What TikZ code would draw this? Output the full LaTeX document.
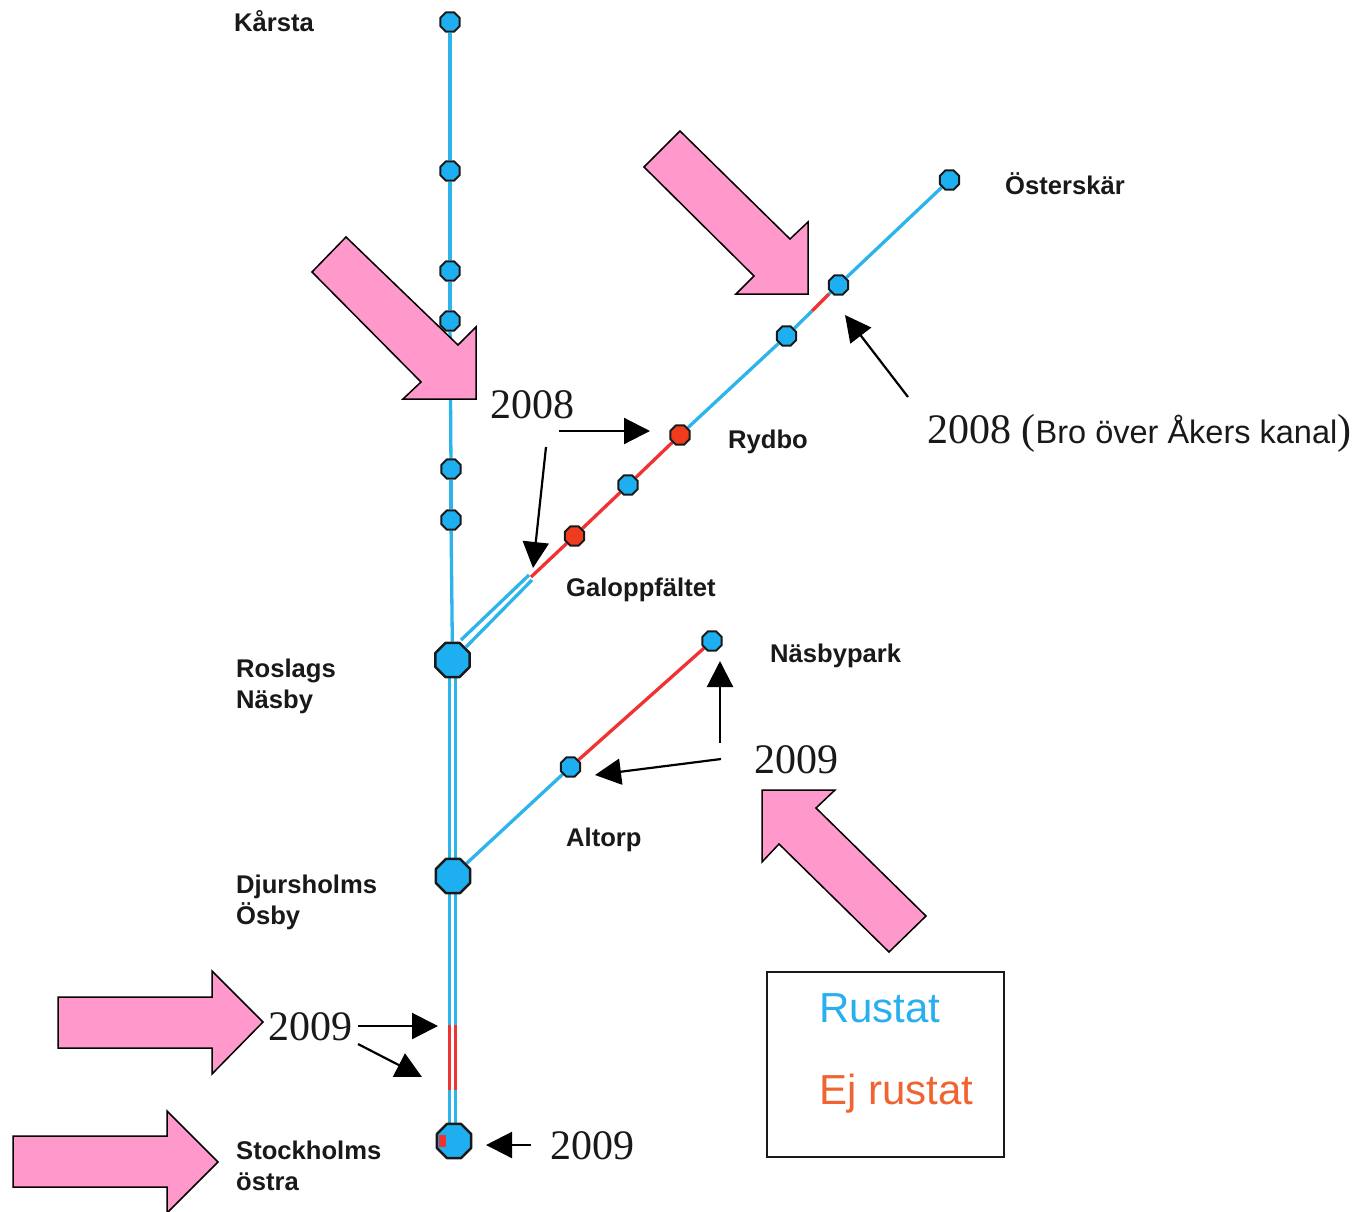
\documentclass[tikz,border=0pt]{standalone}
\usepackage{fontspec}
\setmainfont{Liberation Sans}
\newfontfamily\yearfont{Liberation Serif}
\usetikzlibrary{shapes.geometric,arrows.meta}
\pgfdeclarelayer{tracks}
\pgfsetlayers{tracks,main}
\definecolor{lineblue}{RGB}{45,180,235}
\definecolor{stationblue}{RGB}{30,175,240}
\definecolor{linered}{RGB}{240,50,50}
\definecolor{stationred}{RGB}{240,60,30}
\definecolor{pinkarrow}{RGB}{255,153,204}
\definecolor{legendblue}{RGB}{40,175,240}
\definecolor{legendred}{RGB}{240,100,50}
\definecolor{ink}{RGB}{25,25,25}
\tikzset{
  stn/.style={regular polygon,regular polygon sides=8,draw=ink,line width=2pt,line join=round,fill=stationblue,inner sep=0pt,minimum size=21pt},
  stnred/.style={stn,fill=stationred},
  hub/.style={stn,minimum size=37pt,line width=2.4pt},
  bl/.style={lineblue,line width=3.3pt},
  rd/.style={linered,line width=3.3pt},
  lbl/.style={font=\fontsize{25.6}{31}\selectfont\bfseries,text=ink,align=left,anchor=west,inner sep=0pt},
  yr/.style={font=\yearfont\fontsize{42}{42}\selectfont,text=ink,inner sep=0pt},
  pink/.style={draw=black,line width=1.5pt,fill=pinkarrow,line join=miter},
  blk/.style={draw=black,line width=2.2pt,-{Triangle[length=26pt,width=26pt]}},
}
\begin{document}
\begin{tikzpicture}[x=1pt,y=-1pt]
\useasboundingbox (0,0) rectangle (1358,1211);
\begin{pgfonlayer}{tracks}
\fill[white] (0,0) rectangle (1358,1211);
\end{pgfonlayer}
% stations
\node[stn] (karsta) at (450,22) {};
\node[stn] (s2) at (450,171) {};
\node[stn] (s3) at (450,271) {};
\node[stn] (s4) at (450,321) {};
\node[stn] (s5) at (451,469) {};
\node[stn] (s6) at (451,520) {};
\node[hub] (roslags) at (452.5,660) {};
\node[hub] (djurs) at (453,876) {};
\node[hub] (stock) at (454,1141) {};
\coordinate (rtop) at (449.5,1025);
\coordinate (rbot) at (449.5,1090);
\coordinate (dendA) at (529,575);
\coordinate (dendB) at (532,580);
\coordinate (redstart) at (531,577);
\node[stnred] (galopp) at (574.5,536) {};
\node[stn] (s7) at (628,485) {};
\node[stnred] (rydbo) at (680,435) {};
\node[stn] (s8) at (786.5,336) {};
\coordinate (bro1) at (812,311);
\coordinate (bro2) at (829,294);
\node[stn] (s9) at (838.5,285) {};
\node[stn] (oster) at (949.5,180) {};
\node[stn] (altorp) at (570.5,767) {};
\node[stn] (nasby) at (712,641) {};
% lines
\begin{pgfonlayer}{tracks}
\draw[bl] (karsta) -- (s2);
\draw[bl] (s2) -- (s3);
\draw[bl] (s3) -- (s4);
\draw[bl] (s4) -- (s5);
\draw[bl] (s5) -- (s6);
\draw[bl] (s6) -- (roslags);
\draw[bl] (449.3,660) -- (449.3,876);
\draw[bl] (455.7,660) -- (455.7,876);
\draw[bl] (449.3,876) -- (449.3,1025);
\draw[bl] (455.7,876) -- (455.7,1025);
\draw[rd] (449.3,1025) -- (449.3,1090);
\draw[rd] (455.7,1025) -- (455.7,1090);
\draw[bl] (449.3,1090) -- (449.3,1141);
\draw[bl] (455.7,1090) -- (455.7,1141);
\draw[bl] (dendA) -- (461,640);
\draw[bl] (dendB) -- (466,647);
\draw[rd] (redstart) -- (galopp);
\draw[rd] (galopp) -- (s7);
\draw[rd] (s7) -- (rydbo);
\draw[bl] (rydbo) -- (s8);
\draw[bl] (s8) -- (bro1);
\draw[rd] (bro1) -- (bro2);
\draw[bl] (bro2) -- (s9);
\draw[bl] (s9) -- (oster);
\draw[bl] (djurs) -- (altorp);
\draw[rd] (altorp) -- (nasby);
\end{pgfonlayer}
\fill[linered] (438.5,1135) rectangle (446,1147);
% pink arrows
\draw[pink] (312,272) -- (421,382) -- (403,399) -- (476,399) -- (476,327) -- (458,345) -- (346,237) -- cycle;
\draw[pink] (644,167) -- (754,276) -- (736,294) -- (808,294) -- (808,222) -- (790,239) -- (680,131) -- cycle;
\draw[pink] (762,790) -- (835,790) -- (816,808) -- (926,916) -- (889,952) -- (779,844) -- (762,862) -- cycle;
\draw[pink] (58,997) -- (212,997) -- (212,971) -- (263,1022) -- (212,1074) -- (212,1048) -- (58,1048) -- cycle;
\draw[pink] (13,1136) -- (167,1136) -- (167,1111) -- (218,1162) -- (167,1213) -- (167,1187) -- (13,1187) -- cycle;
% labels
\node[lbl] (lk) at (234,21) {Kårsta};
\node[lbl] (lo) at (1005,183.5) {Österskär};
\node[lbl] (lr) at (728,442) {Rydbo};
\node[lbl] (lg) at (566,590) {Galoppfältet};
\node[lbl] (ln) at (770,655.5) {Näsbypark};
\node[lbl] (la) at (566,840) {Altorp};
\node[lbl] (lrn) at (236,686.5) {Roslags\\Näsby};
\node[lbl] (ldo) at (236,902.5) {Djursholms\\Ösby};
\node[lbl] (lso) at (236,1166) {Stockholms\\östra};
% years
\node[yr] (y1) at (532,405) {2008};
\node[yr,anchor=west] (y2) at (927,433) {2008 (\fontspec{Liberation Sans}\fontsize{32.5}{34}\selectfont Bro över Åkers kanal\yearfont\fontsize{42}{42}\selectfont)};
\node[yr] (y3) at (796,760) {2009};
\node[yr] (y4) at (310,1027) {2009};
\node[yr] (y5) at (592,1146) {2009};
% black arrows
\coordinate (a1s) at (559,431); \coordinate (a1e) at (650,431);
\coordinate (a2s) at (546,447); \coordinate (a2e) at (533,568);
\coordinate (a3s) at (908,397); \coordinate (a3e) at (845,315);
\coordinate (a4s) at (720,743); \coordinate (a4e) at (720,661);
\coordinate (a5s) at (721,759); \coordinate (a5e) at (595,775);
\coordinate (a6s) at (358,1026); \coordinate (a6e) at (438,1026);
\coordinate (a7s) at (358,1044); \coordinate (a7e) at (422,1077);
\coordinate (a8s) at (531,1145); \coordinate (a8e) at (486,1145);
\draw[blk] (a1s) -- (a1e);
\draw[blk] (a2s) -- (a2e);
\draw[blk] (a3s) -- (a3e);
\draw[blk] (a4s) -- (a4e);
\draw[blk] (a5s) -- (a5e);
\draw[blk] (a6s) -- (a6e);
\draw[blk] (a7s) -- (a7e);
\draw[blk] (a8s) -- (a8e);
% legend
\node[draw=ink,line width=1.8pt,minimum width=237pt,minimum height=185pt,inner sep=0pt] (legend) at (885.5,1064.5) {};
\node[font=\fontsize{42}{42}\selectfont,text=legendblue,anchor=west,inner sep=0pt] (rus) at (819,1008) {Rustat};
\node[font=\fontsize{42}{42}\selectfont,text=legendred,anchor=west,inner sep=0pt] (ej) at (819,1094) {Ej rustat};
\end{tikzpicture}
\end{document}
